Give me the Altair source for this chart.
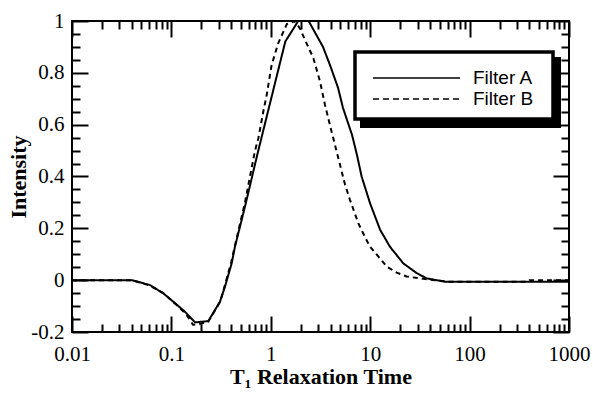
import altair as alt
import pandas as pd

# ---------------- data ----------------
series = ["Filter A", "Filter B"]

t_a = [0.01, 0.040, 0.061, 0.083, 0.109, 0.137, 0.173, 0.235, 0.308, 0.346,
       0.404, 0.436, 0.55, 0.73, 1.40, 1.89, 2.4, 3.35, 3.94, 4.75, 5.32,
       6.56, 7.36, 8.2, 9.96, 12.6, 15.8, 21.5, 29.4, 37, 56.5, 1000]
i_a = [0, 0, -0.019, -0.051, -0.089, -0.122, -0.163, -0.158, -0.083, -0.025,
       0.065, 0.129, 0.284, 0.483, 0.921, 1.0, 1.0, 0.90, 0.83, 0.742, 0.665,
       0.561, 0.483, 0.40, 0.297, 0.194, 0.129, 0.065, 0.027, 0.007, -0.006, -0.006]

t_b = [0.01, 0.04, 0.06, 0.083, 0.11, 0.14, 0.165, 0.19, 0.235, 0.31, 0.345,
       0.40, 0.44, 0.55, 0.69, 0.75, 0.84, 0.91, 1.02, 1.19, 1.45, 1.75, 1.97,
       2.21, 2.68, 3.13, 3.51, 4.09, 4.6, 4.97, 5.57, 6.26, 7.59, 8.87, 9.96,
       12.1, 14.7, 18.5, 23.3, 31.6, 45, 60, 380, 400, 1000]
i_b = [0, 0, -0.02, -0.05, -0.092, -0.13, -0.172, -0.17, -0.16, -0.083, -0.02,
       0.07, 0.14, 0.30, 0.496, 0.548, 0.65, 0.715, 0.831, 0.915, 0.988, 1.0, 0.97,
       0.927, 0.857, 0.766, 0.676, 0.573, 0.496, 0.445, 0.37, 0.31, 0.22, 0.166, 0.129,
       0.091, 0.052, 0.029, 0.014, 0.007, 0.0, -0.006, -0.006, 0.0, 0.0]

x_major = [0.01, 0.1, 1, 10, 100, 1000]
x_minor_mult = [2, 3, 4, 5, 6, 7, 8, 9]
y_major = [-0.2, 0, 0.2, 0.4, 0.6, 0.8, 1]
y_ticks = [-0.2, -0.15, -0.1, -0.05, 0, 0.05, 0.1, 0.15, 0.2, 0.25, 0.3, 0.35,
           0.4, 0.45, 0.5, 0.55, 0.6, 0.65, 0.7, 0.75, 0.8, 0.85, 0.9, 0.95, 1]

x_title = "T\u2081 Relaxation Time"
y_title = "Intensity"

# ---------------- build ----------------
x_ticks = sorted(x_major + [round(m * d, 6) for d in x_major[:-1] for m in x_minor_mult])

W, H = 497, 311
df = pd.concat([
    pd.DataFrame({"t": t_a, "v": i_a, "s": series[0]}),
    pd.DataFrame({"t": t_b, "v": i_b, "s": series[1]}),
])

xscale = alt.Scale(type="log", domain=[0.01, 1000], nice=False)
yscale = alt.Scale(domain=[-0.2, 1.0], nice=False, zero=False)

SERIF = "Liberation Serif"
SANS = "Liberation Sans"

x_major_test = "abs(log(datum.value)/LN10 - round(log(datum.value)/LN10)) < 1e-6"
y_major_test = "abs(datum.value*5 - round(datum.value*5)) < 1e-6"

lines = alt.Chart(df).mark_line(strokeWidth=2, color="black").encode(
    x=alt.X("t:Q", scale=xscale, axis=alt.Axis(
        orient="bottom", values=x_major, labelExpr="'' + datum.value",
        ticks=False, tickSize=0, domain=False, grid=False, labelPadding=11,
        labelFlush=False, labelOverlap=False,
        labelFont=SERIF, labelFontSize=21, labelColor="black",
        title=x_title, titleFont=SERIF, titleFontSize=22, titleFontWeight="bold",
        titleColor="black", titleBaseline="alphabetic", titleY=51)),
    y=alt.Y("v:Q", scale=yscale, axis=alt.Axis(
        orient="left", values=y_major, labelExpr="'' + datum.value",
        ticks=False, tickSize=0, domain=False, grid=False, labelPadding=8,
        labelFlush=False, labelOverlap=False,
        labelFont=SERIF, labelFontSize=21, labelColor="black",
        title=y_title, titleFont=SERIF, titleFontSize=22, titleFontWeight="bold",
        titleColor="black", titleBaseline="alphabetic", titleX=-47, titleY=H / 2,
        titleAngle=270)),
    strokeDash=alt.StrokeDash("s:N", scale=alt.Scale(domain=series, range=[[1, 0], [5, 4]]), legend=None),
)


def tick_layer(xorient, yorient):
    return alt.Chart(df).mark_point(opacity=0).encode(
        x=alt.X("t:Q", scale=xscale, axis=alt.Axis(
            orient=xorient, offset=-H, values=x_ticks, labels=False, domain=False,
            grid=False, ticks=True, tickWidth=2, tickColor="black", title=None,
            tickSize={"condition": {"test": x_major_test, "value": 16}, "value": 8})),
        y=alt.Y("v:Q", scale=yscale, axis=alt.Axis(
            orient=yorient, offset=-W, values=y_ticks, labels=False, domain=False,
            grid=False, ticks=True, tickWidth=2, tickColor="black", title=None,
            tickSize={"condition": {"test": y_major_test, "value": 16}, "value": 8})),
    )


ticks_in_bottom = tick_layer("top", "right")
ticks_in_top = tick_layer("bottom", "left")

one = pd.DataFrame({"k": [0]})
shadow = alt.Chart(one).mark_rect(color="black").encode(
    x=alt.value(288), x2=alt.value(489), y=alt.value(36), y2=alt.value(107))
box = alt.Chart(one).mark_rect(fill="white", stroke="black", strokeWidth=3.5).encode(
    x=alt.value(283), x2=alt.value(481), y=alt.value(31), y2=alt.value(98))
leg_a = alt.Chart(one).mark_rule(strokeWidth=1.5, color="black").encode(
    x=alt.value(301), x2=alt.value(388), y=alt.value(57))
leg_b = alt.Chart(one).mark_rule(strokeWidth=1.5, color="black", strokeDash=[6, 4]).encode(
    x=alt.value(301), x2=alt.value(388), y=alt.value(78))
txt_a = alt.Chart(pd.DataFrame({"label": [series[0]]})).mark_text(
    align="left", baseline="alphabetic", font=SANS, fontSize=19, color="black").encode(
    x=alt.value(401), y=alt.value(63), text="label:N")
txt_b = alt.Chart(pd.DataFrame({"label": [series[1]]})).mark_text(
    align="left", baseline="alphabetic", font=SANS, fontSize=19, color="black").encode(
    x=alt.value(401), y=alt.value(84), text="label:N")

chart = alt.layer(
    lines, ticks_in_bottom, ticks_in_top, shadow, box, leg_a, leg_b, txt_a, txt_b
).resolve_axis(x="independent", y="independent").properties(
    width=W, height=H,
    padding={"left": 72, "top": 21, "right": 24, "bottom": 62},
    autosize=alt.AutoSizeParams(type="none"),
    background="white",
).configure_view(stroke="black", strokeWidth=2)

chart.save("out.html", embed_options={"renderer": "svg", "actions": False})
